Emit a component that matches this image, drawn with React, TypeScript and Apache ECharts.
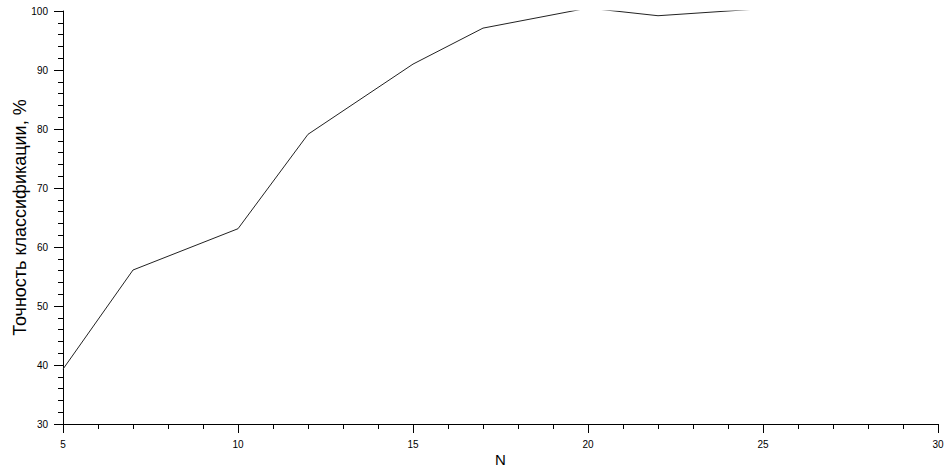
import React, { useEffect, useRef } from "react";
import * as echarts from "echarts";

const nValues = [5, 7, 10, 12, 15, 17, 20, 22, 25];
const accuracy = [39.3, 56.1, 63.1, 79.1, 91.0, 97.1, 100.5, 99.2, 100.4];
const xTitle = "N";
const yTitle = "Точность классификации, %";

export default function App() {
  const ref = useRef<HTMLDivElement>(null);
  useEffect(() => {
    document.body.style.margin = "0";
    if (!ref.current) return;
    const chart = echarts.init(ref.current, undefined, { renderer: "svg" });
    const labelStyle = { color: "#000", fontFamily: "Liberation Sans, Arial, sans-serif", fontSize: 10 };
    chart.setOption({
      animation: false,
      grid: { left: 63, right: 7, top: 11, bottom: 49, containLabel: false, outerBoundsMode: "none" },
      xAxis: {
        type: "value",
        min: 5,
        max: 30,
        interval: 5,
        name: xTitle,
        nameLocation: "middle",
        nameGap: 28,
        nameMoveOverlap: false,
        nameTextStyle: { color: "#000", fontFamily: "Liberation Sans, Arial, sans-serif", fontSize: 15 },
        axisLine: { show: true, lineStyle: { color: "#000", width: 1 } },
        axisTick: { show: true, length: 9, inside: false, lineStyle: { color: "#000" } },
        minorTick: { show: true, splitNumber: 5, length: 5, lineStyle: { color: "#000" } },
        splitLine: { show: false },
        axisLabel: { ...labelStyle, margin: 15, showMinLabel: true, showMaxLabel: true, hideOverlap: false },
      },
      yAxis: {
        type: "value",
        min: 30,
        max: 100,
        interval: 10,
        name: yTitle,
        nameLocation: "middle",
        nameGap: 34,
        nameMoveOverlap: false,
        nameRotate: 90,
        nameTextStyle: { color: "#000", fontFamily: "Liberation Sans, Arial, sans-serif", fontSize: 18 },
        axisLine: { show: true, lineStyle: { color: "#000", width: 1 } },
        axisTick: { show: true, length: 9, inside: false, lineStyle: { color: "#000" } },
        minorTick: { show: true, splitNumber: 5, length: 5, lineStyle: { color: "#000" } },
        splitLine: { show: false },
        axisLabel: { ...labelStyle, margin: 15, showMinLabel: true, showMaxLabel: true },
      },
      series: [
        {
          type: "line",
          data: nValues.map((n, i) => [n, accuracy[i]]),
          showSymbol: false,
          symbol: "none",
          clip: true,
          lineStyle: { color: "#222", width: 1 },
        },
      ],
    });
    return () => chart.dispose();
  }, []);
  return <div ref={ref} style={{ position: "absolute", left: 0, top: 0, width: 945, height: 473 }} />;
}
